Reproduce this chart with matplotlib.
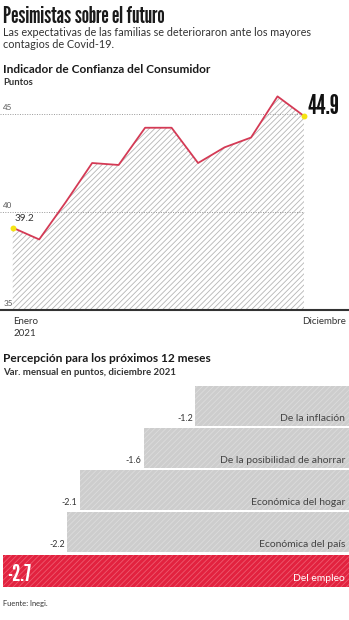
import numpy as np
import matplotlib.pyplot as plt

# Datos
meses = ['Ene', 'Feb', 'Mar', 'Abr', 'May', 'Jun', 'Jul', 'Ago', 'Sep', 'Oct', 'Nov', 'Dic']
icc = [39.2, 38.6, 40.5, 42.5, 42.4, 44.3, 44.3, 42.5, 43.3, 43.8, 45.9, 44.9]

categorias = ['De la inflación', 'De la posibilidad de ahorrar', 'Económica del hogar',
              'Económica del país', 'Del empleo']
variacion = [-1.2, -1.6, -2.1, -2.2, -2.7]

W, H = 349, 620
ROJO = '#d43a55'
GOTHIC = ['League Gothic', 'DejaVu Sans']
LATO = ['Lato', 'DejaVu Sans']

plt.rcParams['hatch.linewidth'] = 0.6

fig = plt.figure(figsize=(W / 100, H / 100), dpi=100)


def px(x, y):
    return x / W, 1 - y / H


def rect(x0, y0, x1, y1):
    return [x0 / W, 1 - y1 / H, (x1 - x0) / W, (y1 - y0) / H]


def texto(x, y, s, **kw):
    fig.text(*px(x, y), s, **kw)


# Encabezados
texto(3, 23, 'Pesimistas sobre el futuro', family=GOTHIC, fontsize=16.8, color='#1a1a1a', va='baseline')
texto(3, 36, 'Las expectativas de las familias se deterioraron ante los mayores', family=LATO,
      fontsize=7.8, color='#333333', va='baseline')
texto(3, 48, 'contagios de Covid-19.', family=LATO, fontsize=7.8, color='#333333', va='baseline')
texto(3, 73, 'Indicador de Confianza del Consumidor', family=LATO, fontsize=8.6,
      weight='bold', color='#1a1a1a', va='baseline')
texto(3, 85, 'Puntos', family=LATO, fontsize=6.8, weight='bold', color='#333333', va='baseline')

# Gráfica de línea
ax = fig.add_axes(rect(0, 90.5, W, 310))
x = np.arange(len(icc))
ax.set_xlim(-0.48, 12.70)
ax.set_ylim(35, 46.2)
ax.fill_between(x, 35, icc, facecolor='white', hatch='//////', edgecolor='#b5b5b5', linewidth=0)
for g in [40, 45]:
    ax.hlines(g, -0.48, 11, colors='#999999', linestyles=(0, (1, 1.5)), linewidth=0.7, zorder=1)
    ax.text(-0.36, g + 0.15, str(g), fontsize=5.8, family=LATO, color='#555555', va='bottom')
ax.text(-0.36, 35.15, '35', fontsize=5.8, family=LATO, color='#555555', va='bottom')
ax.plot(x, icc, color=ROJO, linewidth=1.3, zorder=3)
ax.scatter([x[0], x[-1]], [icc[0], icc[-1]], s=18, color='#f5e313', zorder=4, linewidths=0)
ax.text(x[0] + 0.05, icc[0] + 0.25, f'{icc[0]}', fontsize=7.2, family=LATO, color='#333333', va='bottom')
ax.text(x[-1] + 0.15, icc[-1] - 0.15, f'{icc[-1]}', fontsize=19, family=GOTHIC,
        color='#111111', va='bottom')
for s in ['top', 'right', 'left']:
    ax.spines[s].set_visible(False)
ax.spines['bottom'].set_linewidth(1.5)
ax.spines['bottom'].set_color('#333333')
ax.set_xticks([])
ax.set_yticks([])

texto(13, 324, 'Enero', family=LATO, fontsize=7, color='#333333', va='baseline')
texto(13, 336, '2021', family=LATO, fontsize=7, color='#333333', va='baseline')
texto(346, 324, 'Diciembre', family=LATO, fontsize=7, color='#333333', va='baseline', ha='right')

# Gráfica de barras
texto(3, 362, 'Percepción para los próximos 12 meses', family=LATO, fontsize=8.6,
      weight='bold', color='#1a1a1a', va='baseline')
texto(3, 375, 'Var. mensual en puntos, diciembre 2021', family=LATO, fontsize=6.9,
      weight='bold', color='#333333', va='baseline')

bx = fig.add_axes(rect(0, 386, W, 587))
bx.set_xlim(-W / 128, 0)
slot = 42
alturas = np.array([40, 40, 40, 40, 32]) / slot
tops = np.arange(len(variacion)) + np.array([0, 0, 0, 0, 1]) / slot
centros = tops + alturas / 2
bx.set_ylim((4 * slot + 33) / slot, 0)
for i, (cat, v) in enumerate(zip(categorias, variacion)):
    ultimo = i == len(variacion) - 1
    fc = '#e2223f' if ultimo else '#cdcdcd'
    hc = '#ee5a6f' if ultimo else '#dcdcdc'
    bx.barh(centros[i], v, height=alturas[i], left=0, color=fc, edgecolor=hc, hatch='//////', linewidth=0)
    fondo = tops[i] + alturas[i] - 0.07
    if ultimo:
        bx.text(v + 0.03, fondo + 0.02, f'{v}', fontsize=16.5, family=GOTHIC, color='white', va='bottom', ha='left')
        bx.text(-0.03, fondo - 0.02, cat, fontsize=7.5, family=LATO, color='white', va='bottom', ha='right')
    else:
        bx.text(v - 0.02, fondo, f'{v}', fontsize=6.4, family=LATO, color='#333333', va='bottom', ha='right')
        bx.text(-0.03, fondo, cat, fontsize=7.5, family=LATO, color='#444444', va='bottom', ha='right')
bx.axis('off')

texto(3, 606, 'Fuente: Inegi.', family=LATO, fontsize=5.4, color='#333333', va='baseline')

fig.savefig('out.png', dpi=100, facecolor='white')
